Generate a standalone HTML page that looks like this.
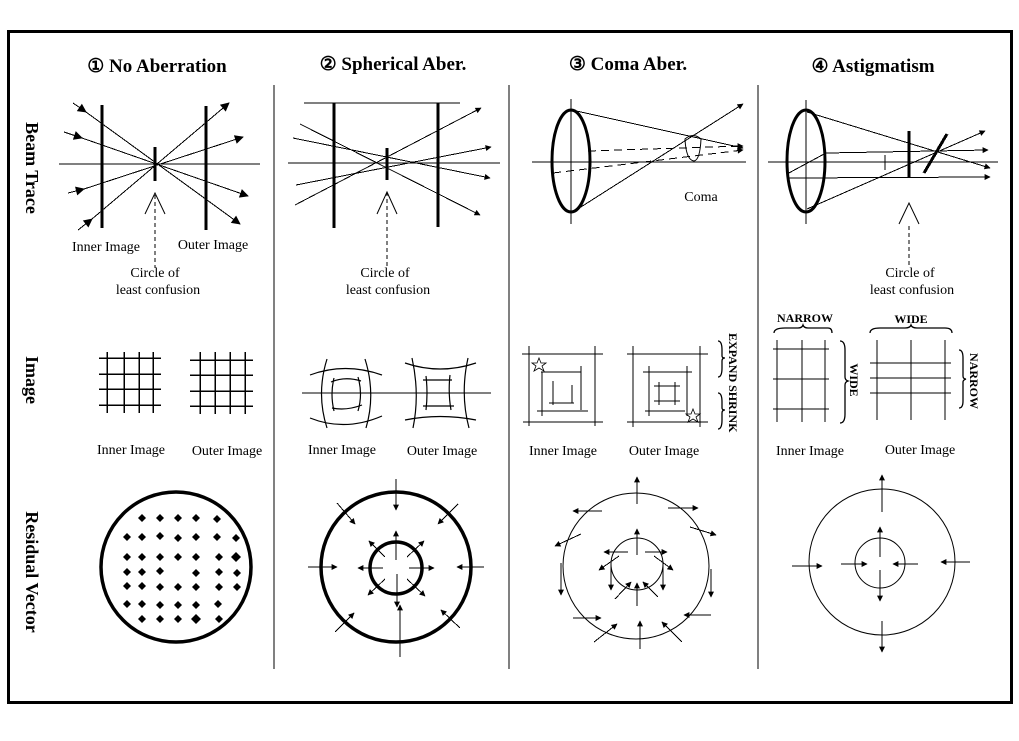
<!DOCTYPE html>
<html><head><meta charset="utf-8"><style>
html,body{margin:0;padding:0;background:#fff;}
svg{display:block;}
line{shape-rendering:crispEdges;}
text{font-family:"Liberation Serif","DejaVu Serif",serif;fill:#000;}
.t{font-size:19px;font-weight:bold;}
.r{font-size:18px;font-weight:bold;}
.l{font-size:14px;}
.b{font-size:12px;font-weight:bold;}
</style></head><body>
<svg width="1019" height="741" viewBox="0 0 1019 741" xmlns="http://www.w3.org/2000/svg">
<defs>
<marker id="a" viewBox="0 0 10 10" refX="9" refY="5" markerWidth="10" markerHeight="6" markerUnits="userSpaceOnUse" orient="auto"><path d="M0,0 L10,5 L0,10 z" fill="#000"/></marker>
<marker id="A" viewBox="0 0 10 10" refX="9" refY="5" markerWidth="18" markerHeight="9" markerUnits="userSpaceOnUse" orient="auto"><path d="M0,0 L10,5 L0,10 z" fill="#000"/></marker>
</defs>
<rect x="0" y="0" width="1019" height="741" fill="#fff"/>
<rect x="8.5" y="31.5" width="1003" height="671" fill="none" stroke="#000" stroke-width="3"/>
<g stroke="#000" stroke-width="1">
<line x1="274" y1="85" x2="274" y2="669"/>
<line x1="509" y1="85" x2="509" y2="669"/>
<line x1="758" y1="85" x2="758" y2="669"/>
</g>
<text class="t" x="157" y="72" text-anchor="middle">① No Aberration</text>
<text class="t" x="393" y="70" text-anchor="middle">② Spherical Aber.</text>
<text class="t" x="628" y="70" text-anchor="middle">③ Coma Aber.</text>
<text class="t" x="873" y="72" text-anchor="middle">④ Astigmatism</text>
<text class="r" transform="translate(26,168) rotate(90)" text-anchor="middle">Beam Trace</text>
<text class="r" transform="translate(26,380) rotate(90)" text-anchor="middle">Image</text>
<text class="r" transform="translate(26,572) rotate(90)" text-anchor="middle">Residual Vector</text>

<!-- Panel 1 beam -->
<g stroke="#000" fill="none">
<line x1="59" y1="164" x2="260" y2="164"/>
<line x1="102" y1="105" x2="102" y2="228" stroke-width="3"/>
<line x1="206" y1="106" x2="206" y2="230" stroke-width="3"/>
<line x1="155" y1="147" x2="155" y2="181" stroke-width="3"/>
<line x1="73" y1="103" x2="86" y2="112" marker-end="url(#A)"/>
<line x1="86" y1="112" x2="240" y2="224" marker-end="url(#A)"/>
<line x1="64" y1="132" x2="82" y2="138" marker-end="url(#A)"/>
<line x1="82" y1="138" x2="248" y2="196" marker-end="url(#A)"/>
<line x1="68" y1="193" x2="84" y2="189" marker-end="url(#A)"/>
<line x1="84" y1="189" x2="243" y2="137" marker-end="url(#A)"/>
<line x1="78" y1="230" x2="92" y2="219" marker-end="url(#A)"/>
<line x1="92" y1="219" x2="229" y2="103" marker-end="url(#A)"/>
<line x1="155" y1="195" x2="155" y2="268" stroke-dasharray="4,3"/>
<polyline points="145,214 155,193 165,214"/>
</g>
<text class="l" x="106" y="251" text-anchor="middle">Inner Image</text>
<text class="l" x="213" y="249" text-anchor="middle">Outer Image</text>
<text class="l" x="155" y="277" text-anchor="middle">Circle of</text>
<text class="l" x="158" y="294" text-anchor="middle">least confusion</text>

<!-- Panel 2 beam -->
<g stroke="#000" fill="none">
<line x1="304" y1="103" x2="460" y2="103"/>
<line x1="288" y1="163" x2="500" y2="163"/>
<line x1="334" y1="103" x2="334" y2="228" stroke-width="3"/>
<line x1="438" y1="103" x2="438" y2="227" stroke-width="3"/>
<line x1="387" y1="148" x2="387" y2="180" stroke-width="3"/>
<line x1="300" y1="124" x2="480" y2="215" marker-end="url(#a)"/>
<line x1="293" y1="138" x2="490" y2="178" marker-end="url(#a)"/>
<line x1="296" y1="185" x2="491" y2="147" marker-end="url(#a)"/>
<line x1="295" y1="205" x2="481" y2="108" marker-end="url(#a)"/>
<line x1="387" y1="192" x2="387" y2="268" stroke-dasharray="4,3"/>
<polyline points="377,214 387,192 397,214"/>
</g>
<text class="l" x="385" y="277" text-anchor="middle">Circle of</text>
<text class="l" x="388" y="294" text-anchor="middle">least confusion</text>

<!-- Panel 3 beam -->
<g stroke="#000" fill="none">
<line x1="532" y1="162" x2="746" y2="162"/>
<line x1="571" y1="99" x2="571" y2="224"/>
<ellipse cx="571" cy="161" rx="19" ry="51" stroke-width="3"/>
<line x1="572" y1="110" x2="743" y2="148" marker-end="url(#a)"/>
<line x1="573" y1="212" x2="743" y2="104" marker-end="url(#a)"/>
<line x1="588" y1="151" x2="743" y2="146" stroke-dasharray="8,5" marker-end="url(#a)"/>
<line x1="553" y1="173" x2="743" y2="150" stroke-dasharray="8,5" marker-end="url(#a)"/>
<path d="M685,139 Q693,132 701,139 Q700,160 694,161 Q686,160 685,139 Z"/>
</g>
<text class="l" x="701" y="201" text-anchor="middle">Coma</text>

<!-- Panel 4 beam -->
<g stroke="#000" fill="none">
<line x1="768" y1="162" x2="998" y2="162"/>
<line x1="806" y1="100" x2="806" y2="224"/>
<ellipse cx="806" cy="161" rx="19" ry="51" stroke-width="3"/>
<line x1="807" y1="112" x2="990" y2="168" marker-end="url(#a)"/>
<line x1="807" y1="209" x2="985" y2="131" marker-end="url(#a)"/>
<line x1="787" y1="174" x2="826" y2="153"/>
<line x1="826" y1="153" x2="988" y2="150" marker-end="url(#a)"/>
<line x1="787" y1="178" x2="990" y2="177" marker-end="url(#a)"/>
<line x1="885" y1="155" x2="885" y2="170"/>
<line x1="909" y1="131" x2="909" y2="177" stroke-width="3"/>
<line x1="924" y1="173" x2="947" y2="134" stroke-width="3"/>
<line x1="909" y1="226" x2="909" y2="268" stroke-dasharray="4,3"/>
<polyline points="899,224 909,203 919,224"/>
</g>
<text class="l" x="910" y="277" text-anchor="middle">Circle of</text>
<text class="l" x="912" y="294" text-anchor="middle">least confusion</text>

<!-- Image row panel 1 -->
<g stroke="#000" stroke-width="1.5">
<line x1="107" y1="352" x2="107" y2="413"/><line x1="124" y1="352" x2="124" y2="413"/><line x1="139" y1="352" x2="139" y2="413"/><line x1="153" y1="352" x2="153" y2="413"/>
<line x1="99" y1="358" x2="161" y2="358"/><line x1="99" y1="374" x2="161" y2="374"/><line x1="99" y1="389" x2="161" y2="389"/><line x1="99" y1="405" x2="161" y2="405"/>
<line x1="200" y1="352" x2="200" y2="414"/><line x1="215" y1="352" x2="215" y2="414"/><line x1="230" y1="352" x2="230" y2="414"/><line x1="245" y1="352" x2="245" y2="414"/>
<line x1="190" y1="360" x2="253" y2="360"/><line x1="190" y1="375" x2="253" y2="375"/><line x1="190" y1="391" x2="253" y2="391"/><line x1="190" y1="406" x2="253" y2="406"/>
</g>
<text class="l" x="131" y="454" text-anchor="middle">Inner Image</text>
<text class="l" x="227" y="455" text-anchor="middle">Outer Image</text>

<!-- Image row panel 2 -->
<g stroke="#000" fill="none" stroke-width="1.2">
<line x1="302" y1="393" x2="491" y2="393"/>
<path d="M310,375 Q345,362 382,375"/><path d="M310,418 Q345,432 382,416"/>
<path d="M327,359 Q316,394 327,428"/><path d="M365,359 Q376,394 366,428"/>
<path d="M331,382 Q345,376 361,381"/><path d="M332,408 Q346,411 362,405"/>
<path d="M334,378 Q330,394 334,411"/><path d="M358,377 Q363,394 358,411"/>
<path d="M405,363 Q440,375 476,363"/><path d="M405,420 Q440,413 476,420"/>
<path d="M412,358 Q420,394 413,428"/><path d="M468,358 Q460,394 469,428"/>
<path d="M423,380 L452,380"/><path d="M423,406 L454,406"/>
<path d="M426,376 Q428,393 426,410"/><path d="M450,375 Q448,393 451,410"/>
</g>
<text class="l" x="342" y="454" text-anchor="middle">Inner Image</text>
<text class="l" x="442" y="455" text-anchor="middle">Outer Image</text>

<!-- Image row panel 3 -->
<g stroke="#000" fill="none" stroke-width="1.3">
<line x1="522" y1="354" x2="603" y2="354"/><line x1="523" y1="422" x2="603" y2="422"/>
<line x1="529" y1="346" x2="529" y2="426"/><line x1="595" y1="346" x2="595" y2="426"/>
<line x1="541" y1="372" x2="581" y2="372"/><line x1="537" y1="411" x2="588" y2="411"/>
<line x1="542" y1="372" x2="542" y2="416"/><line x1="581" y1="366" x2="581" y2="410"/>
<line x1="553" y1="381" x2="553" y2="405"/><line x1="549" y1="403" x2="574" y2="403"/><line x1="572" y1="385" x2="572" y2="403"/>
<line x1="627" y1="354" x2="708" y2="354"/><line x1="627" y1="422" x2="708" y2="422"/>
<line x1="633" y1="346" x2="633" y2="427"/><line x1="700" y1="346" x2="700" y2="427"/>
<line x1="643" y1="372" x2="692" y2="372"/><line x1="645" y1="411" x2="685" y2="411"/>
<line x1="649" y1="366" x2="649" y2="416"/><line x1="687" y1="366" x2="687" y2="416"/>
<line x1="654" y1="386" x2="680" y2="386"/><line x1="654" y1="401" x2="680" y2="401"/>
<line x1="659" y1="382" x2="659" y2="405"/><line x1="675" y1="382" x2="675" y2="405"/>
<path d="M539,358 L541,363 L546,363 L542,366 L544,371 L539,368 L534,371 L536,366 L532,363 L537,363 Z" stroke-width="0.8"/>
<path d="M693,409 L695,414 L700,414 L696,417 L698,422 L693,419 L688,422 L690,417 L686,414 L691,414 Z" stroke-width="0.8"/>
<path d="M718,341 Q722,341 722,350 L722,356 Q722,358 725,358 Q722,358 722,361 L722,368 Q722,377 718,377"/>
<path d="M718,393 Q722,393 722,402 L722,408 Q722,410 725,410 Q722,410 722,413 L722,420 Q722,429 718,429"/>
</g>
<text class="b" transform="translate(729,333) rotate(90)">EXPAND SHRINK</text>
<text class="l" x="563" y="455" text-anchor="middle">Inner Image</text>
<text class="l" x="664" y="455" text-anchor="middle">Outer Image</text>

<!-- Image row panel 4 -->
<g stroke="#000" fill="none" stroke-width="1.3">
<line x1="777" y1="340" x2="777" y2="422"/><line x1="802" y1="340" x2="802" y2="422"/><line x1="825" y1="340" x2="825" y2="422"/>
<line x1="773" y1="349" x2="829" y2="349"/><line x1="773" y1="379" x2="829" y2="379"/><line x1="773" y1="409" x2="829" y2="409"/>
<line x1="877" y1="340" x2="877" y2="420"/><line x1="911" y1="340" x2="911" y2="420"/><line x1="945" y1="340" x2="945" y2="420"/>
<line x1="870" y1="363" x2="951" y2="363"/><line x1="870" y1="378" x2="951" y2="378"/><line x1="870" y1="393" x2="951" y2="393"/>
<path d="M774,333 Q774,328 785,328 L798,328 Q802,328 803,325 Q804,328 808,328 L828,328 Q832,328 832,333"/>
<path d="M870,333 Q870,328 880,328 L905,328 Q910,328 911,325 Q912,328 917,328 L945,328 Q952,328 952,333"/>
<path d="M840,341 Q845,341 845,350 L845,377 Q845,380 848,381 Q845,382 845,385 L845,414 Q845,423 840,423"/>
<path d="M959,350 Q963,350 963,358 L963,376 Q963,379 966,379 Q963,380 963,382 L963,401 Q963,408 959,408"/>
</g>
<text class="b" x="805" y="322" text-anchor="middle">NARROW</text>
<text class="b" x="911" y="323" text-anchor="middle">WIDE</text>
<text class="b" transform="translate(850,380) rotate(90)" text-anchor="middle">WIDE</text>
<text class="b" transform="translate(970,381) rotate(90)" text-anchor="middle">NARROW</text>
<text class="l" x="810" y="455" text-anchor="middle">Inner Image</text>
<text class="l" x="920" y="454" text-anchor="middle">Outer Image</text>

<!-- Residual panel 1 -->
<circle cx="176" cy="567" r="75" fill="none" stroke="#000" stroke-width="3.5"/>
<g fill="#000">
<path d="M0,-4 L4,0 L0,4 L-4,0 Z" transform="translate(142,518)"/>
<path d="M0,-4 L4,0 L0,4 L-4,0 Z" transform="translate(160,518)"/><path d="M0,-4 L4,0 L0,4 L-4,0 Z" transform="translate(178,518)"/><path d="M0,-4 L4,0 L0,4 L-4,0 Z" transform="translate(196,518)"/><path d="M0,-4 L4,0 L0,4 L-4,0 Z" transform="translate(217,519)"/>
<path d="M0,-4 L4,0 L0,4 L-4,0 Z" transform="translate(127,537)"/><path d="M0,-4 L4,0 L0,4 L-4,0 Z" transform="translate(142,537)"/><path d="M0,-4 L4,0 L0,4 L-4,0 Z" transform="translate(160,536)"/><path d="M0,-4 L4,0 L0,4 L-4,0 Z" transform="translate(178,538)"/><path d="M0,-4 L4,0 L0,4 L-4,0 Z" transform="translate(196,537)"/><path d="M0,-4 L4,0 L0,4 L-4,0 Z" transform="translate(217,537)"/><path d="M0,-4 L4,0 L0,4 L-4,0 Z" transform="translate(236,538)"/>
<path d="M0,-4 L4,0 L0,4 L-4,0 Z" transform="translate(127,557)"/><path d="M0,-4 L4,0 L0,4 L-4,0 Z" transform="translate(142,557)"/><path d="M0,-4 L4,0 L0,4 L-4,0 Z" transform="translate(160,557)"/><path d="M0,-4 L4,0 L0,4 L-4,0 Z" transform="translate(178,557)"/><path d="M0,-4 L4,0 L0,4 L-4,0 Z" transform="translate(196,557)"/><path d="M0,-4 L4,0 L0,4 L-4,0 Z" transform="translate(219,557)"/><path d="M0,-5 L5,0 L0,5 L-5,0 Z" transform="translate(236,557)"/>
<path d="M0,-4 L4,0 L0,4 L-4,0 Z" transform="translate(127,572)"/><path d="M0,-4 L4,0 L0,4 L-4,0 Z" transform="translate(142,572)"/><path d="M0,-4 L4,0 L0,4 L-4,0 Z" transform="translate(160,571)"/><path d="M0,-4 L4,0 L0,4 L-4,0 Z" transform="translate(196,573)"/><path d="M0,-4 L4,0 L0,4 L-4,0 Z" transform="translate(219,572)"/><path d="M0,-4 L4,0 L0,4 L-4,0 Z" transform="translate(237,573)"/>
<path d="M0,-4 L4,0 L0,4 L-4,0 Z" transform="translate(127,586)"/><path d="M0,-4 L4,0 L0,4 L-4,0 Z" transform="translate(142,586)"/><path d="M0,-4 L4,0 L0,4 L-4,0 Z" transform="translate(160,587)"/><path d="M0,-4 L4,0 L0,4 L-4,0 Z" transform="translate(178,587)"/><path d="M0,-4 L4,0 L0,4 L-4,0 Z" transform="translate(196,587)"/><path d="M0,-4 L4,0 L0,4 L-4,0 Z" transform="translate(219,587)"/><path d="M0,-4 L4,0 L0,4 L-4,0 Z" transform="translate(237,587)"/>
<path d="M0,-4 L4,0 L0,4 L-4,0 Z" transform="translate(127,604)"/><path d="M0,-4 L4,0 L0,4 L-4,0 Z" transform="translate(142,604)"/><path d="M0,-4 L4,0 L0,4 L-4,0 Z" transform="translate(160,605)"/><path d="M0,-4 L4,0 L0,4 L-4,0 Z" transform="translate(178,605)"/><path d="M0,-4 L4,0 L0,4 L-4,0 Z" transform="translate(196,605)"/><path d="M0,-4 L4,0 L0,4 L-4,0 Z" transform="translate(218,604)"/>
<path d="M0,-4 L4,0 L0,4 L-4,0 Z" transform="translate(142,619)"/><path d="M0,-4 L4,0 L0,4 L-4,0 Z" transform="translate(160,619)"/><path d="M0,-4 L4,0 L0,4 L-4,0 Z" transform="translate(178,619)"/><path d="M0,-5 L5,0 L0,5 L-5,0 Z" transform="translate(196,619)"/><path d="M0,-4 L4,0 L0,4 L-4,0 Z" transform="translate(219,619)"/>
</g>

<!-- Residual panel 2 -->
<g stroke="#000" fill="none">
<circle cx="396" cy="567" r="75" stroke-width="3.5"/>
<circle cx="396" cy="568" r="26" stroke-width="3.5"/>
<line x1="396" y1="479" x2="396" y2="510" marker-end="url(#a)"/>
<line x1="400" y1="657" x2="400" y2="605" marker-end="url(#a)"/>
<line x1="308" y1="567" x2="337" y2="567" marker-end="url(#a)"/>
<line x1="484" y1="567" x2="457" y2="567" marker-end="url(#a)"/>
<line x1="337" y1="503" x2="355" y2="524" marker-end="url(#a)"/>
<line x1="458" y1="504" x2="438" y2="524" marker-end="url(#a)"/>
<line x1="335" y1="632" x2="354" y2="613" marker-end="url(#a)"/>
<line x1="460" y1="628" x2="441" y2="610" marker-end="url(#a)"/>
<line x1="396" y1="560" x2="396" y2="531" marker-end="url(#a)"/>
<line x1="397" y1="574" x2="397" y2="607" marker-end="url(#a)"/>
<line x1="383" y1="568" x2="358" y2="568" marker-end="url(#a)"/>
<line x1="409" y1="568" x2="434" y2="568" marker-end="url(#a)"/>
<line x1="385" y1="557" x2="369" y2="541" marker-end="url(#a)"/>
<line x1="407" y1="557" x2="424" y2="541" marker-end="url(#a)"/>
<line x1="385" y1="579" x2="368" y2="595" marker-end="url(#a)"/>
<line x1="407" y1="579" x2="425" y2="596" marker-end="url(#a)"/>
</g>

<!-- Residual panel 3 -->
<g stroke="#000" fill="none">
<circle cx="636" cy="566" r="73"/>
<circle cx="637" cy="564" r="26"/>
<line x1="637" y1="504" x2="637" y2="477" marker-end="url(#a)"/>
<line x1="602" y1="511" x2="573" y2="511" marker-end="url(#a)"/>
<line x1="668" y1="508" x2="698" y2="508" marker-end="url(#a)"/>
<line x1="690" y1="527" x2="716" y2="535" marker-end="url(#a)"/>
<line x1="581" y1="534" x2="555" y2="546" marker-end="url(#a)"/>
<line x1="561" y1="563" x2="561" y2="595" marker-end="url(#a)"/>
<line x1="711" y1="569" x2="711" y2="597" marker-end="url(#a)"/>
<line x1="573" y1="618" x2="601" y2="618" marker-end="url(#a)"/>
<line x1="711" y1="615" x2="684" y2="615" marker-end="url(#a)"/>
<line x1="594" y1="642" x2="617" y2="624" marker-end="url(#a)"/>
<line x1="682" y1="642" x2="662" y2="622" marker-end="url(#a)"/>
<line x1="640" y1="649" x2="640" y2="621" marker-end="url(#a)"/>
<line x1="637" y1="555" x2="637" y2="529" marker-end="url(#a)"/>
<line x1="628" y1="552" x2="604" y2="552" marker-end="url(#a)"/>
<line x1="645" y1="552" x2="667" y2="552" marker-end="url(#a)"/>
<line x1="619" y1="556" x2="599" y2="570" marker-end="url(#a)"/>
<line x1="654" y1="556" x2="673" y2="570" marker-end="url(#a)"/>
<line x1="611" y1="562" x2="611" y2="590" marker-end="url(#a)"/>
<line x1="663" y1="562" x2="663" y2="590" marker-end="url(#a)"/>
<line x1="637" y1="606" x2="637" y2="583" marker-end="url(#a)"/>
<line x1="615" y1="599" x2="631" y2="582" marker-end="url(#a)"/>
<line x1="658" y1="597" x2="643" y2="582" marker-end="url(#a)"/>
</g>

<!-- Residual panel 4 -->
<g stroke="#000" fill="none">
<circle cx="882" cy="562" r="73"/>
<circle cx="880" cy="563" r="25"/>
<line x1="882" y1="512" x2="882" y2="475" marker-end="url(#a)"/>
<line x1="882" y1="621" x2="882" y2="652" marker-end="url(#a)"/>
<line x1="792" y1="566" x2="822" y2="566" marker-end="url(#a)"/>
<line x1="970" y1="562" x2="941" y2="562" marker-end="url(#a)"/>
<line x1="880" y1="557" x2="880" y2="527" marker-end="url(#a)"/>
<line x1="880" y1="570" x2="880" y2="601" marker-end="url(#a)"/>
<line x1="841" y1="564" x2="867" y2="564" marker-end="url(#a)"/>
<line x1="918" y1="564" x2="893" y2="564" marker-end="url(#a)"/>
</g>
</svg>
</body></html>
